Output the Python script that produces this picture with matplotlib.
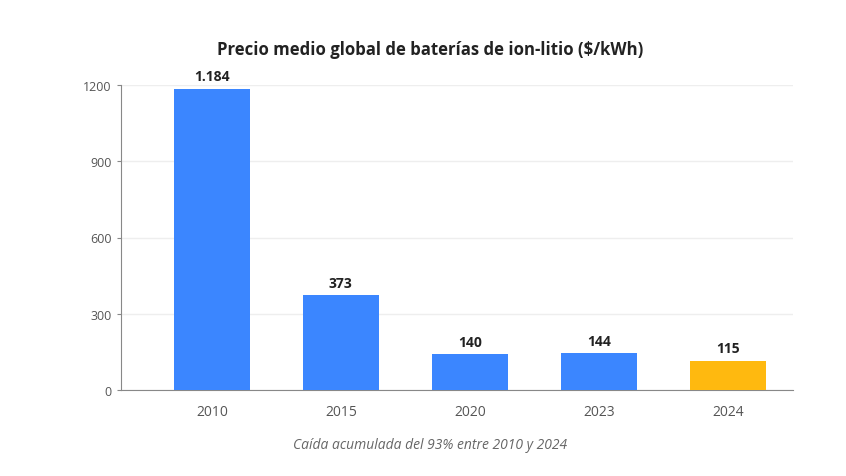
import matplotlib.pyplot as plt

years = ['2010', '2015', '2020', '2023', '2024']
prices = [1184, 373, 140, 144, 115]
labels = ['1.184', '373', '140', '144', '115']
colors = ['#3b86ff', '#3b86ff', '#3b86ff', '#3b86ff', '#ffb90f']
yticks = [0, 300, 600, 900, 1200]

plt.rcParams['font.family'] = ['Open Sans', 'DejaVu Sans']

fig = plt.figure(figsize=(8.46, 4.77), dpi=100)
ax = fig.add_axes([0.143, 0.1803, 0.794, 0.6394])

x = range(len(years))
ax.bar(x, prices, width=0.59, color=colors, zorder=3)
for i, (v, lab) in enumerate(zip(prices, labels)):
    ax.text(i, v + 22, lab, ha='center', va='bottom', fontsize=10,
            fontweight='bold', color='#222222')

ax.set_xlim(-0.705, 4.504)
ax.set_ylim(0, 1200)
ax.set_xticks(list(x))
ax.set_xticklabels(years)
ax.set_yticks(yticks)
ax.set_yticklabels([str(t) for t in yticks])
ax.tick_params(axis='x', length=0, pad=10, labelsize=10, labelcolor='#555555')
ax.tick_params(axis='y', length=3, color='#888888', pad=4, labelsize=9,
               labelcolor='#555555')
ax.grid(axis='y', color='#eeeeee', linewidth=1, zorder=0)
for s in ['top', 'right']:
    ax.spines[s].set_visible(False)
ax.spines['left'].set_color('#888888')
ax.spines['bottom'].set_color('#888888')

fig.text(0.508, 0.895, 'Precio medio global de baterías de ion-litio ($/kWh)',
         ha='center', va='center', fontsize=12.1, fontweight='bold',
         color='#222222')
fig.text(0.508, 0.067, 'Caída acumulada del 93% entre 2010 y 2024',
         ha='center', va='center', fontsize=10, style='italic',
         color='#666666')

fig.savefig('out.png', dpi=100)
